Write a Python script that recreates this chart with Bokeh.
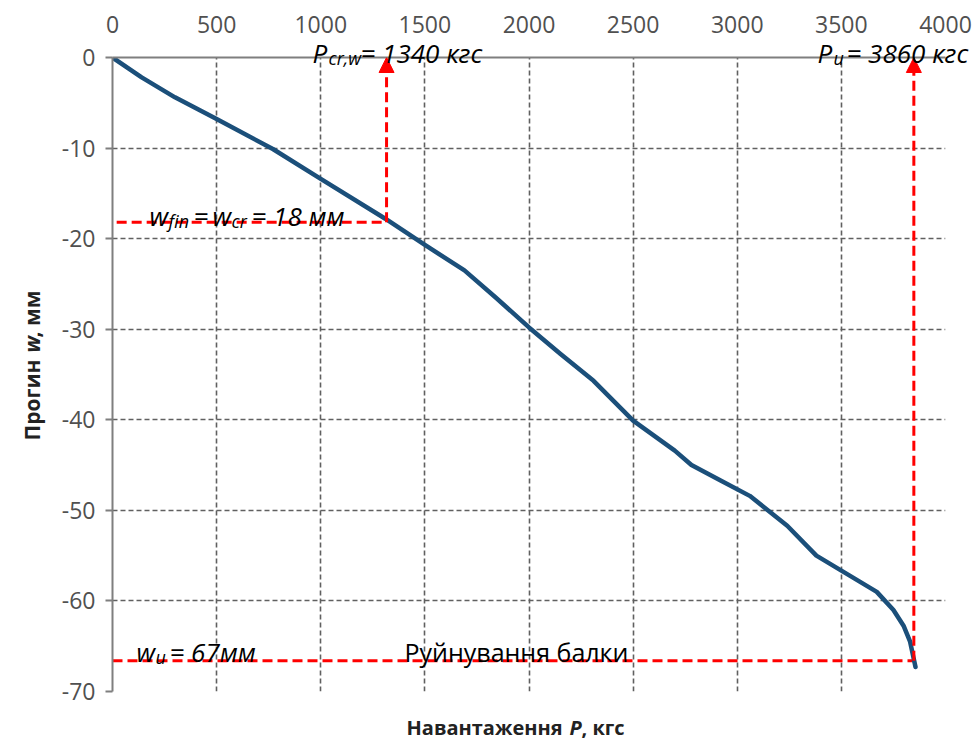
import math
from bokeh.plotting import figure
from bokeh.models import Range1d, Arrow, NormalHead, FixedTicker
from bokeh.core.properties import value
from bokeh.embed import file_html
from bokeh.resources import INLINE

# ---- data ----
load_P = [0, 140, 300, 500, 770, 1000, 1310, 1500, 1690, 1840, 2000, 2150, 2310,
          2500, 2700, 2780, 2920, 3060, 3240, 3380, 3510, 3670, 3750, 3800, 3830, 3856]
defl_w = [0, -2.2, -4.4, -6.8, -10.1, -13.4, -17.8, -20.7, -23.5, -26.5, -29.8, -32.7, -35.7,
          -40.1, -43.4, -45.0, -46.7, -48.4, -51.7, -55.0, -56.8, -59.0, -61.0, -62.8, -64.5, -67.3]

x_ticks = [0, 500, 1000, 1500, 2000, 2500, 3000, 3500, 4000]
y_ticks = [0, -10, -20, -30, -40, -50, -60, -70]

P_cr_mark = 1316      # position of the critical-load marker
w_fin = -18.2         # w_fin = w_cr level
w_fin_start = 20
P_u_mark = 3848       # ultimate-load marker
w_u = -66.6           # ultimate deflection level
w_u_start = 0

FONT = "Open Sans"
RED = "#ff0000"
GRID = "#606060"

# frame geometry in page px (used only to place annotation texts)
FL, FR, FT, FB = 112, 945, 57, 691


def X(px):
    return (px - FL) / (FR - FL) * 4000


def Y(py):
    return -(py - FT) / (FB - FT) * 70


p = figure(frame_width=FR - FL, frame_height=FB - FT,
           x_range=Range1d(0, 4000), y_range=Range1d(-70, 0),
           x_axis_location="above",
           min_border_left=FL, min_border_right=32,
           min_border_top=FT, min_border_bottom=50,
           output_backend="svg", toolbar_location=None)
p.outline_line_color = None
p.background_fill_color = "white"
p.border_fill_color = "white"

# axes
p.xaxis.ticker = FixedTicker(ticks=x_ticks)
p.yaxis.ticker = FixedTicker(ticks=y_ticks)
p.yaxis.major_label_overrides = {t: str(t) for t in y_ticks}
for ax in (p.xaxis[0], p.yaxis[0]):
    ax.axis_line_color = "#7f7f7f"
    ax.axis_line_width = 2
    ax.major_label_text_font = FONT
    ax.major_label_text_font_size = "23px"
    ax.major_label_text_color = "#505050"
    ax.minor_tick_line_color = None
    ax.major_tick_in = 0
p.xaxis.major_tick_out = 0
p.xaxis.major_label_standoff = 25
p.yaxis.major_tick_out = 7
p.yaxis.major_tick_line_color = "#7f7f7f"
p.yaxis.major_tick_line_width = 2
p.yaxis.major_label_standoff = 10

# grid
p.xgrid.ticker = FixedTicker(ticks=x_ticks[1:])
p.ygrid.ticker = FixedTicker(ticks=y_ticks[1:])
for g in (p.xgrid[0], p.ygrid[0]):
    g.grid_line_color = GRID
    g.grid_line_dash = "5 3"
    g.grid_line_width = 1.6

# red guide lines
p.line([w_fin_start, P_cr_mark], [w_fin, w_fin], line_color=RED, line_width=3, line_dash="10 5")
p.line([w_u_start, P_u_mark], [w_u, w_u], line_color=RED, line_width=3, line_dash="10 5")
for xm, ys in ((P_cr_mark, w_fin), (P_u_mark, w_u)):
    p.add_layout(Arrow(end=NormalHead(size=15, fill_color=RED, line_color=RED, line_width=1),
                       x_start=xm, y_start=ys, x_end=xm, y_end=0,
                       line_color=RED, line_width=3, line_dash="10 5"))

# curve
p.line(load_P, defl_w, line_color="#1b4f7a", line_width=4.5, line_cap="round", line_join="round")


def lab(text, px, py, size=26, style="italic", angle=0.0, color="black"):
    p.text(x=[X(px)], y=[Y(py)], text=[text], text_font=value(FONT),
           text_font_size=f"{size}px", text_font_style=style,
           text_align="left", text_baseline="alphabetic",
           text_color=color, angle=angle, level="overlay")


SUB = 18
# P_cr,w = 1340 кгс
lab("P", 312, 52)
lab("cr,w", 328, 57, SUB)
lab("= 1340 кгс", 360, 52)
# P_u = 3860 кгс
lab("P", 817, 52)
lab("u", 833, 57, SUB)
lab("= 3860 кгс", 846, 52)
# w_fin = w_cr = 18 мм
lab("w", 149, 215)
lab("fin", 168, 220, SUB)
lab("=", 193, 215)
lab("w", 212, 215)
lab("cr", 231, 220, SUB)
lab("= 18 мм", 251, 215)
# w_u = 67мм
lab("w", 136, 651)
lab("u", 155, 656, SUB)
lab("= 67мм", 169, 651)
# failure
lab("Руйнування балки", 404, 651, 25, style="normal")

# axis titles
TC = "#222222"
lab("Навантаження", 406, 727, 20, "bold", color=TC)
lab("P", 569, 727, 20, "bold italic", color=TC)
lab(", кгс", 581, 727, 20, "bold", color=TC)

lab("Прогин", 31, 440, 21, "bold", angle=math.pi / 2, color=TC)
lab("w", 31, 352, 21, "bold italic", angle=math.pi / 2, color=TC)
lab(", мм", 31, 337, 21, "bold", angle=math.pi / 2, color=TC)

open("out.html", "w").write(file_html(p, INLINE))
